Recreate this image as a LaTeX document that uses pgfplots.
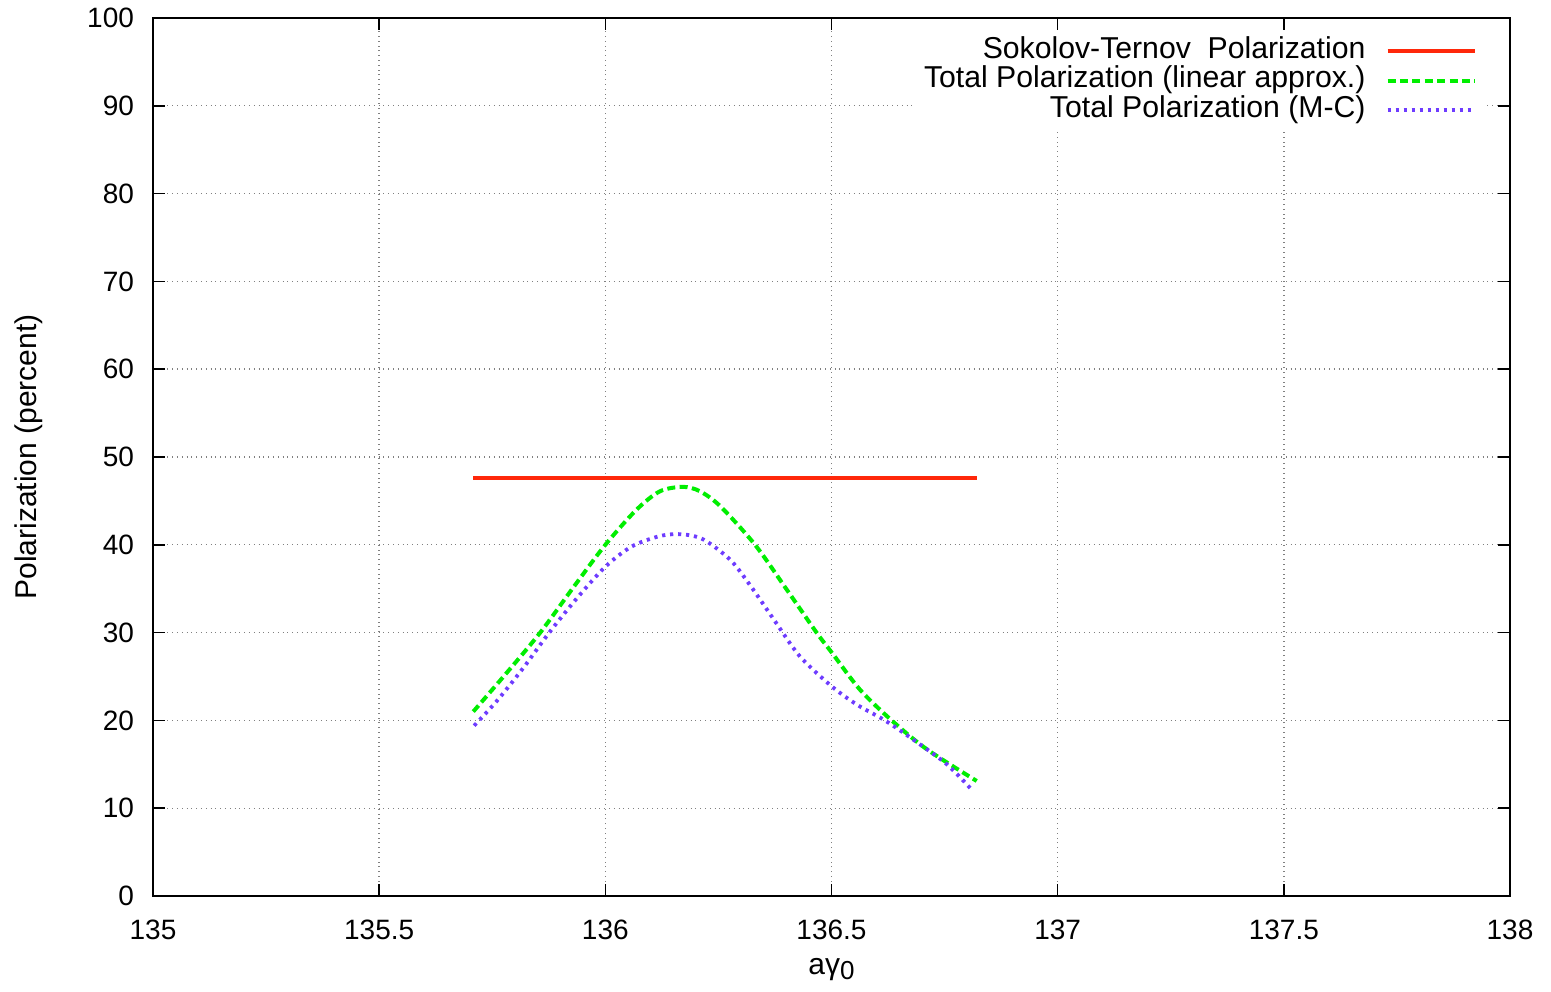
\documentclass[border=0pt]{standalone}
\usepackage{fontspec}
\setmainfont{Liberation Sans}
\usepackage{pgfplots}
\pgfplotsset{compat=1.18}
\definecolor{stred}{RGB}{255,40,10}
\definecolor{lingreen}{RGB}{0,238,0}
\definecolor{mcblue}{RGB}{110,60,255}
\begin{document}
\begin{tikzpicture}
\useasboundingbox (-76.5pt,-47.5pt) rectangle (699pt,448pt);
\begin{axis}[
  at={(0,0)}, anchor=south west,
  scale only axis, width=678.5pt, height=439pt,
  xmin=135, xmax=138, ymin=0, ymax=100,
  xtick={135,135.5,...,138}, ytick={0,10,...,100},
  xticklabels={135,135.5,136,136.5,137,137.5,138},
  /pgf/number format/assume math mode=true,
  tick label style={font=\fontsize{14}{16}\selectfont},
  label style={font=\fontsize{15}{17}\selectfont},
  xlabel={aγ{\fontsize{13}{14}\selectfont\raisebox{-0.35ex}{0}}},
  ylabel={Polarization (percent)},
  xlabel style={at={(axis description cs:0.5,0)}, anchor=center, yshift=-37pt},
  ylabel style={at={(axis description cs:0,0.5)}, anchor=center, yshift=62pt},
  xticklabel style={yshift=-8.5pt},
  yticklabel style={xshift=-6pt},
  tick align=inside, major tick length=6pt,
  axis line style={line width=0.9pt},
  every tick/.style={black, line width=0.8pt},
  grid=major,
  major grid style={gray, dotted, line width=0.7pt},
  legend plot pos=right,
  legend cell align=right,
  legend style={at={(axis description cs:0.9815,0.9865)}, anchor=north east,
    draw=none, fill=white, font=\fontsize{15.1}{17}\selectfont,
    nodes={inner sep=0pt, text height=11pt, text depth=3.75pt},
    column sep=10pt,
    inner xsep=4pt, inner ysep=3pt},
  legend image code/.code={\draw[#1] (0pt,0pt) -- (43.5pt,0pt);},
]
\addplot[stred, line width=2pt] coordinates {(135.708,47.6) (136.821,47.6)};
\addlegendentry{Sokolov-Ternov\ \ Polarization}
\addplot[lingreen, line width=2pt, dash pattern=on 4pt off 2.2pt, smooth, tension=0.5] coordinates {
(135.708,21.0) (135.78,25.3) (135.856,30.0) (135.93,35.2) (136.0,40.0) (136.069,44.0)
(136.121,46.1) (136.172,46.6) (136.209,46.1) (136.254,44.4) (136.331,40.0) (136.401,34.9)
(136.467,30.0) (136.501,27.7) (136.563,23.5) (136.633,20.0) (136.711,16.7) (136.821,13.1)};
\addlegendentry{Total Polarization (linear approx.)}
\addplot[mcblue, line width=1.9pt, dash pattern=on 1.6pt off 2.4pt, smooth, tension=0.5] coordinates {
(135.710,19.4) (135.76,22.2) (135.819,26.0) (135.876,30.0) (135.937,33.9) (136.0,37.5)
(136.058,39.8) (136.121,41.0) (136.169,41.2) (136.217,40.6) (136.276,38.3) (136.32,35.4)
(136.375,31.3) (136.43,27.3) (136.50,23.9) (136.556,21.8) (136.618,20.0) (136.681,17.8)
(136.755,15.0) (136.81,12.1)};
\addlegendentry{Total Polarization (M-C)}
\end{axis}
\end{tikzpicture}
\end{document}
